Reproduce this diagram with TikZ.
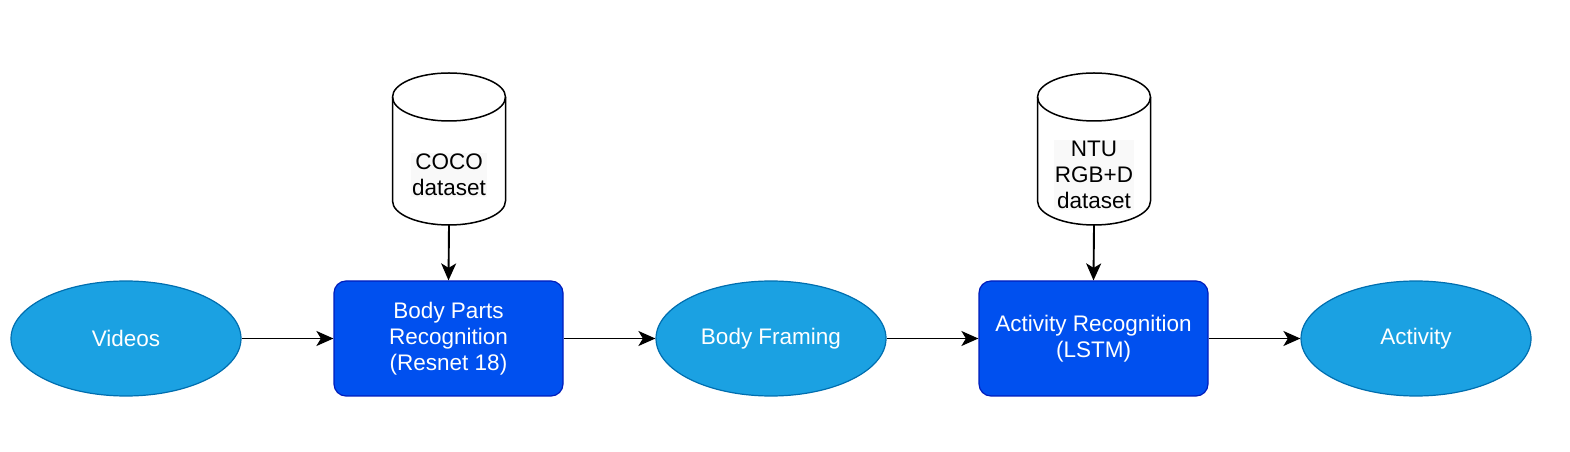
\documentclass[tikz,border=0pt]{standalone}
\usepackage{fontspec}
\setmainfont{Liberation Sans}
\usetikzlibrary{arrows.meta,shapes.geometric}
\definecolor{ellfill}{HTML}{1BA1E2}
\definecolor{elldraw}{HTML}{006EAF}
\definecolor{boxfill}{HTML}{0050EF}
\definecolor{boxdraw}{HTML}{001DBC}
\definecolor{lblback}{HTML}{F9F9F9}
% data store drawn as a cylinder around an empty node
\newcommand{\datastore}[3]{%
\draw[line width=1.5pt,fill=white](#2-56.5,355)--(#2-56.5,251)
arc[start angle=180,end angle=360,x radius=56.5,y radius=24]--(#2+56.5,355)
arc[start angle=0,end angle=180,x radius=56.5,y radius=24];
\draw[line width=1.5pt](#2-56.5,355)arc[start angle=180,end angle=360,x radius=56.5,y radius=24];
\node[inner sep=0pt,minimum width=113pt,minimum height=152pt](#1)at(#2,303){};
\node[fill=lblback,inner sep=1pt,align=center,font=\fontsize{22.5}{26}\selectfont]at(#2,277){#3};}
\begin{document}
\begin{tikzpicture}[x=1pt,y=1pt,
stage/.style={ellipse,fill=ellfill,draw=elldraw,line width=1.2pt,minimum width=230pt,minimum height=115pt,
text=white,font=\fontsize{22.5}{26}\selectfont},
proc/.style={rectangle,rounded corners=12pt,fill=boxfill,draw=boxdraw,line width=1.2pt,minimum width=229pt,
minimum height=115pt,text=white,align=center,font=\fontsize{22.5}{26}\selectfont},
flow/.style={line width=1.9pt,-{Stealth[length=17pt,width=15pt,inset=4.5pt]}}]
\useasboundingbox(0,0)rectangle(1570,452);
\node[stage](videos)at(126,113.5){Videos};
\node[proc](parts)at(448.5,113.5){Body Parts\\Recognition\\(Resnet 18)};
\node[stage](framing)at(771,113.5){Body Framing};
\node[proc](actrec)at(1093.5,113.5){Activity Recognition\\(LSTM)};
\node[stage](activity)at(1416,113.5){Activity};
\datastore{coco}{449}{COCO\\dataset}
\datastore{ntu}{1094}{NTU\\RGB+D\\dataset}
\draw[flow](videos)--(parts);
\draw[flow](parts)--(framing);
\draw[flow](framing)--(actrec);
\draw[flow](actrec)--(activity);
\draw[flow](coco.south)--(parts.north);
\draw[flow](ntu.south)--(actrec.north);
\end{tikzpicture}
\end{document}
